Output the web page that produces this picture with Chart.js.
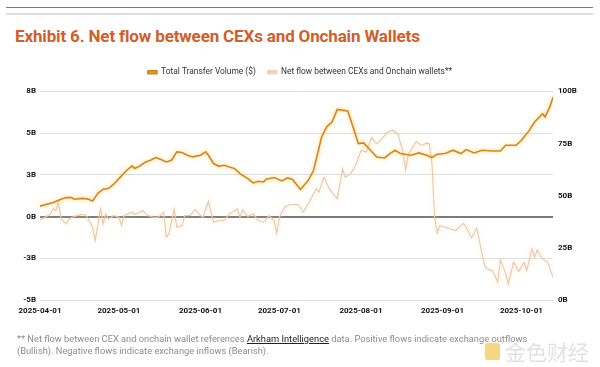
<!DOCTYPE html>
<html>
<head>
<meta charset="utf-8">
<script src="https://cdn.jsdelivr.net/npm/chart.js@4.4.1/dist/chart.umd.min.js"></script>
<style>
  body { margin: 0; background: #fff; }
  #wrap { position: relative; width: 600px; height: 367px; overflow: hidden; font-family: Roboto, sans-serif; }
  .rule1 { position: absolute; left: 6px; top: 7px; width: 587px; height: 1px; background: #b9643e; }
  .rule2 { position: absolute; left: 6px; top: 13px; width: 587px; height: 2px; background: #dcdcdc; }
  .titulo { position: absolute; left: 15px; top: 27px; font-weight: bold; font-size: 17px; letter-spacing: -0.15px; line-height: 18px; color: #d15e2b; white-space: nowrap; }
  .nota { position: absolute; left: 17px; top: 333px; font-size: 9.3px; line-height: 11.5px; color: #8c8c8c; white-space: nowrap; }
  .nota u { color: #222; }
  .marca { position: absolute; left: 505px; top: 339px; font-size: 21px; line-height: 24px; color: rgba(205,205,205,0.6); font-family: "Noto Sans CJK SC"; }
  .logo { position: absolute; left: 485px; top: 343px; width: 15px; height: 17px; background: rgba(240,180,20,0.55); border-radius: 2px; }
</style>
</head>
<body>
<div id="wrap">
  <div class="rule1"></div>
  <div class="rule2"></div>
  <div class="titulo">Exhibit 6. Net flow between CEXs and Onchain Wallets</div>
  <canvas id="grafico" width="600" height="367" style="position:absolute;left:0;top:0"></canvas>
  <div class="nota">** Net flow between CEX and onchain wallet references <u>Arkham Intelligence</u> data. Positive flows indicate exchange outflows<br>(Bullish). Negative flows indicate exchange inflows (Bearish).</div>
  <div class="logo"></div>
  <div class="marca">金色财经</div>
</div>
<script>
// Datos (volumen en B, eje derecho)
const fechasVolumen = [
  "2025-04-01","2025-04-06","2025-04-09","2025-04-11","2025-04-13","2025-04-14","2025-04-17","2025-04-19",
  "2025-04-21","2025-04-23","2025-04-25","2025-04-27","2025-04-29","2025-05-01","2025-05-04","2025-05-06",
  "2025-05-07","2025-05-09","2025-05-11","2025-05-13","2025-05-15","2025-05-17","2025-05-19","2025-05-21",
  "2025-05-23","2025-05-25","2025-05-27","2025-05-29","2025-06-01","2025-06-03","2025-06-04","2025-06-06",
  "2025-06-08","2025-06-10","2025-06-12","2025-06-14","2025-06-16","2025-06-19","2025-06-21","2025-06-23",
  "2025-06-25","2025-06-26","2025-06-29","2025-07-02","2025-07-04","2025-07-06","2025-07-09","2025-07-12",
  "2025-07-14","2025-07-16","2025-07-17","2025-07-19","2025-07-21","2025-07-23","2025-07-26","2025-07-27",
  "2025-07-29","2025-07-31","2025-08-02","2025-08-04","2025-08-07","2025-08-10","2025-08-12","2025-08-14",
  "2025-08-16","2025-08-20","2025-08-23","2025-08-26","2025-08-28","2025-08-30","2025-09-02","2025-09-05",
  "2025-09-08","2025-09-10","2025-09-13","2025-09-16","2025-09-20","2025-09-23","2025-09-25","2025-09-29",
  "2025-10-01","2025-10-04","2025-10-06","2025-10-09","2025-10-10","2025-10-12","2025-10-13"
];
const volumen = [
  45.0, 46.7, 48.3, 49.1, 49.1, 48.3, 48.7, 48.5,
  47.5, 51.1, 53.1, 53.4, 55.5, 58.2, 62.2, 64.3,
  63.0, 64.3, 66.0, 67.0, 68.3, 67.3, 66.2, 67.0,
  71.0, 70.7, 69.4, 68.6, 69.4, 71.0, 69.4, 65.4,
  64.1, 64.6, 63.8, 63.0, 60.6, 58.2, 56.1, 56.9,
  56.6, 57.9, 58.7, 57.1, 58.5, 57.8, 53.0, 57.4,
  62.2, 72.6, 78.0, 83.0, 85.3, 91.4, 90.8, 90.6,
  82.9, 75.0, 75.3, 72.6, 68.5, 68.1, 70.2, 71.8,
  70.2, 69.4, 70.5, 69.4, 68.3, 69.9, 70.2, 71.8,
  70.2, 72.1, 70.5, 71.8, 71.4, 71.4, 74.2, 74.2,
  76.6, 81.3, 85.3, 89.3, 87.7, 93.3, 97.3
];

// Flujo neto en B, eje izquierdo
const fechasFlujo = [
  "2025-04-01","2025-04-03","2025-04-05","2025-04-06","2025-04-07","2025-04-08","2025-04-09","2025-04-11",
  "2025-04-12","2025-04-14","2025-04-16","2025-04-18","2025-04-19","2025-04-21","2025-04-22","2025-04-24",
  "2025-04-25","2025-04-26","2025-04-27","2025-04-29","2025-05-01","2025-05-02","2025-05-03","2025-05-06",
  "2025-05-07","2025-05-09","2025-05-10","2025-05-12","2025-05-14","2025-05-16","2025-05-18","2025-05-19",
  "2025-05-20","2025-05-22","2025-05-23","2025-05-25","2025-05-26","2025-05-28","2025-05-30","2025-06-01",
  "2025-06-02","2025-06-04","2025-06-06","2025-06-08","2025-06-10","2025-06-12","2025-06-15","2025-06-16",
  "2025-06-17","2025-06-19","2025-06-21","2025-06-23","2025-06-25","2025-06-27","2025-06-29","2025-06-30",
  "2025-07-01","2025-07-03","2025-07-05","2025-07-08","2025-07-09","2025-07-10","2025-07-12","2025-07-14",
  "2025-07-15","2025-07-16","2025-07-18","2025-07-20","2025-07-22","2025-07-23","2025-07-25","2025-07-26",
  "2025-07-28","2025-07-30","2025-08-01","2025-08-03","2025-08-05","2025-08-07","2025-08-09","2025-08-11",
  "2025-08-13","2025-08-15","2025-08-17","2025-08-18","2025-08-19","2025-08-22","2025-08-24","2025-08-26",
  "2025-08-27","2025-08-28","2025-08-29","2025-08-30","2025-08-31","2025-09-02","2025-09-04","2025-09-06",
  "2025-09-09","2025-09-10","2025-09-12","2025-09-14","2025-09-17","2025-09-18","2025-09-20","2025-09-22",
  "2025-09-23","2025-09-25","2025-09-26","2025-09-28","2025-09-30","2025-10-02","2025-10-03","2025-10-05",
  "2025-10-06","2025-10-07","2025-10-09","2025-10-11","2025-10-13"
];
const flujoNeto = [
  -0.20, -0.04, 0.16, 0.46, 0.36, 0.86, -0.14, -0.44,
  -0.14, 0.00, 0.10, 0.12, -0.04, -0.64, -1.44, 0.46,
  -0.44, 0.16, -0.14, 0.06, -0.04, -0.54, 0.06, 0.26,
  0.12, 0.26, 0.36, 0.06, -0.04, -0.04, 0.26, -1.24,
  -1.04, 0.46, -0.64, -0.54, 0.06, 0.06, 0.42, 0.06,
  -0.04, 0.90, -0.34, -0.24, -0.24, 0.16, 0.46, -0.04,
  0.40, 0.00, 0.16, -0.24, -0.34, 0.06, -0.24, -1.00,
  -0.04, 0.56, 0.72, 0.72, 0.56, 0.26, 0.76, 1.36,
  1.66, 1.46, 2.36, 1.66, 1.26, 1.06, 2.86, 2.36,
  2.56, 3.06, 3.96, 3.86, 4.72, 4.36, 4.66, 5.06,
  5.16, 4.96, 3.86, 2.80, 3.72, 4.50, 4.26, 4.40,
  4.36, 3.16, -0.04, -1.00, -0.54, -0.64, -0.74, -0.84,
  -0.40, -0.64, -1.28, -0.70, -2.94, -3.14, -3.24, -3.94,
  -2.60, -3.40, -4.04, -2.74, -3.28, -2.74, -3.24, -1.94,
  -2.44, -2.00, -2.54, -2.74, -3.64
];

const marcasMes = ["2025-04-01","2025-05-01","2025-06-01","2025-07-01","2025-08-01","2025-09-01","2025-10-01"];
const ultimaFecha = "2025-10-13";

const inicio = Date.parse(marcasMes[0]);
function aDia(fecha) {
  return Math.round((Date.parse(fecha) - inicio) / 86400000);
}
function aFecha(dia) {
  return new Date(inicio + dia * 86400000).toISOString().slice(0, 10);
}

const puntosVolumen = fechasVolumen.map((f, i) => ({ x: aDia(f), y: volumen[i] }));
const puntosFlujo = fechasFlujo.map((f, i) => ({ x: aDia(f), y: flujoNeto[i] }));

const fuenteEje = { family: "Roboto", size: 8, weight: "bold" };

// brillo suave alrededor de las lineas
const brillo = {
  id: "brillo",
  beforeDatasetDraw(chart, args) {
    const ctx = chart.ctx;
    ctx.save();
    ctx.shadowColor = args.index === 0 ? "rgba(252,205,90,0.9)" : "rgba(250,220,180,0.7)";
    ctx.shadowBlur = 4;
  },
  afterDatasetDraw(chart) {
    chart.ctx.restore();
  }
};

// un poco mas de aire entre la leyenda y el grafico
const espacioLeyenda = {
  id: "espacioLeyenda",
  afterInit(chart) {
    const leyenda = chart.legend;
    if (!leyenda) return;
    const fitOriginal = leyenda.fit;
    leyenda.fit = function () {
      fitOriginal.call(this);
      this.height += 5;
    };
  }
};

let ctx = document.getElementById("grafico").getContext("2d");

let grafico = new Chart(ctx, {
  type: "line",
  data: {
    datasets: [
      {
        label: "Total Transfer Volume ($)",
        data: puntosVolumen,
        yAxisID: "yDer",
        borderColor: "#d6851b",
        backgroundColor: "#e39a2a",
        borderWidth: 1.6,
        pointRadius: 0,
        tension: 0
      },
      {
        label: "Net flow between CEXs and Onchain wallets**",
        data: puntosFlujo,
        yAxisID: "yIzq",
        borderColor: "#ecc6a4",
        backgroundColor: "#f3d6bc",
        borderWidth: 1.1,
        pointRadius: 0,
        tension: 0
      }
    ]
  },
  options: {
    responsive: false,
    animation: false,
    layout: { padding: { top: 56, bottom: 47, left: 0, right: 0 } },
    plugins: {
      tooltip: { enabled: false },
      legend: {
        position: "top",
        labels: {
          boxWidth: 9,
          boxHeight: 3,
          padding: 12,
          color: "#333",
          font: { family: "Roboto", size: 8.4 }
        }
      }
    },
    scales: {
      x: {
        type: "linear",
        min: 0,
        max: aDia(ultimaFecha),
        border: { display: false },
        grid: { display: false, drawTicks: false },
        afterBuildTicks: (eje) => {
          eje.ticks = marcasMes.map(f => ({ value: aDia(f) }));
        },
        afterFit: (eje) => { eje.height = 20; },
        ticks: {
          padding: 6,
          maxRotation: 0,
          autoSkip: false,
          color: "#111",
          font: fuenteEje,
          callback: (v) => aFecha(v)
        }
      },
      yIzq: {
        position: "left",
        min: -5,
        max: 7.5,
        border: { display: false },
        afterFit: (eje) => { eje.width = 40; },
        grid: {
          drawTicks: false,
          color: (c) => c.tick.value === 0 ? "#7b7b7b" : "#dedede",
          lineWidth: (c) => c.tick.value === 0 ? 2 : 1
        },
        ticks: {
          stepSize: 2.5,
          padding: 4,
          color: "#111",
          font: fuenteEje,
          callback: (v) => v.toFixed(0) + "B"
        }
      },
      yDer: {
        position: "right",
        min: 0,
        max: 100,
        border: { display: false },
        afterFit: (eje) => { eje.width = 47; },
        grid: { display: false, drawTicks: false },
        ticks: {
          stepSize: 25,
          padding: 5,
          color: "#111",
          font: fuenteEje,
          callback: (v) => v + "B"
        }
      }
    }
  },
  plugins: [brillo, espacioLeyenda]
});
</script>
</body>
</html>
